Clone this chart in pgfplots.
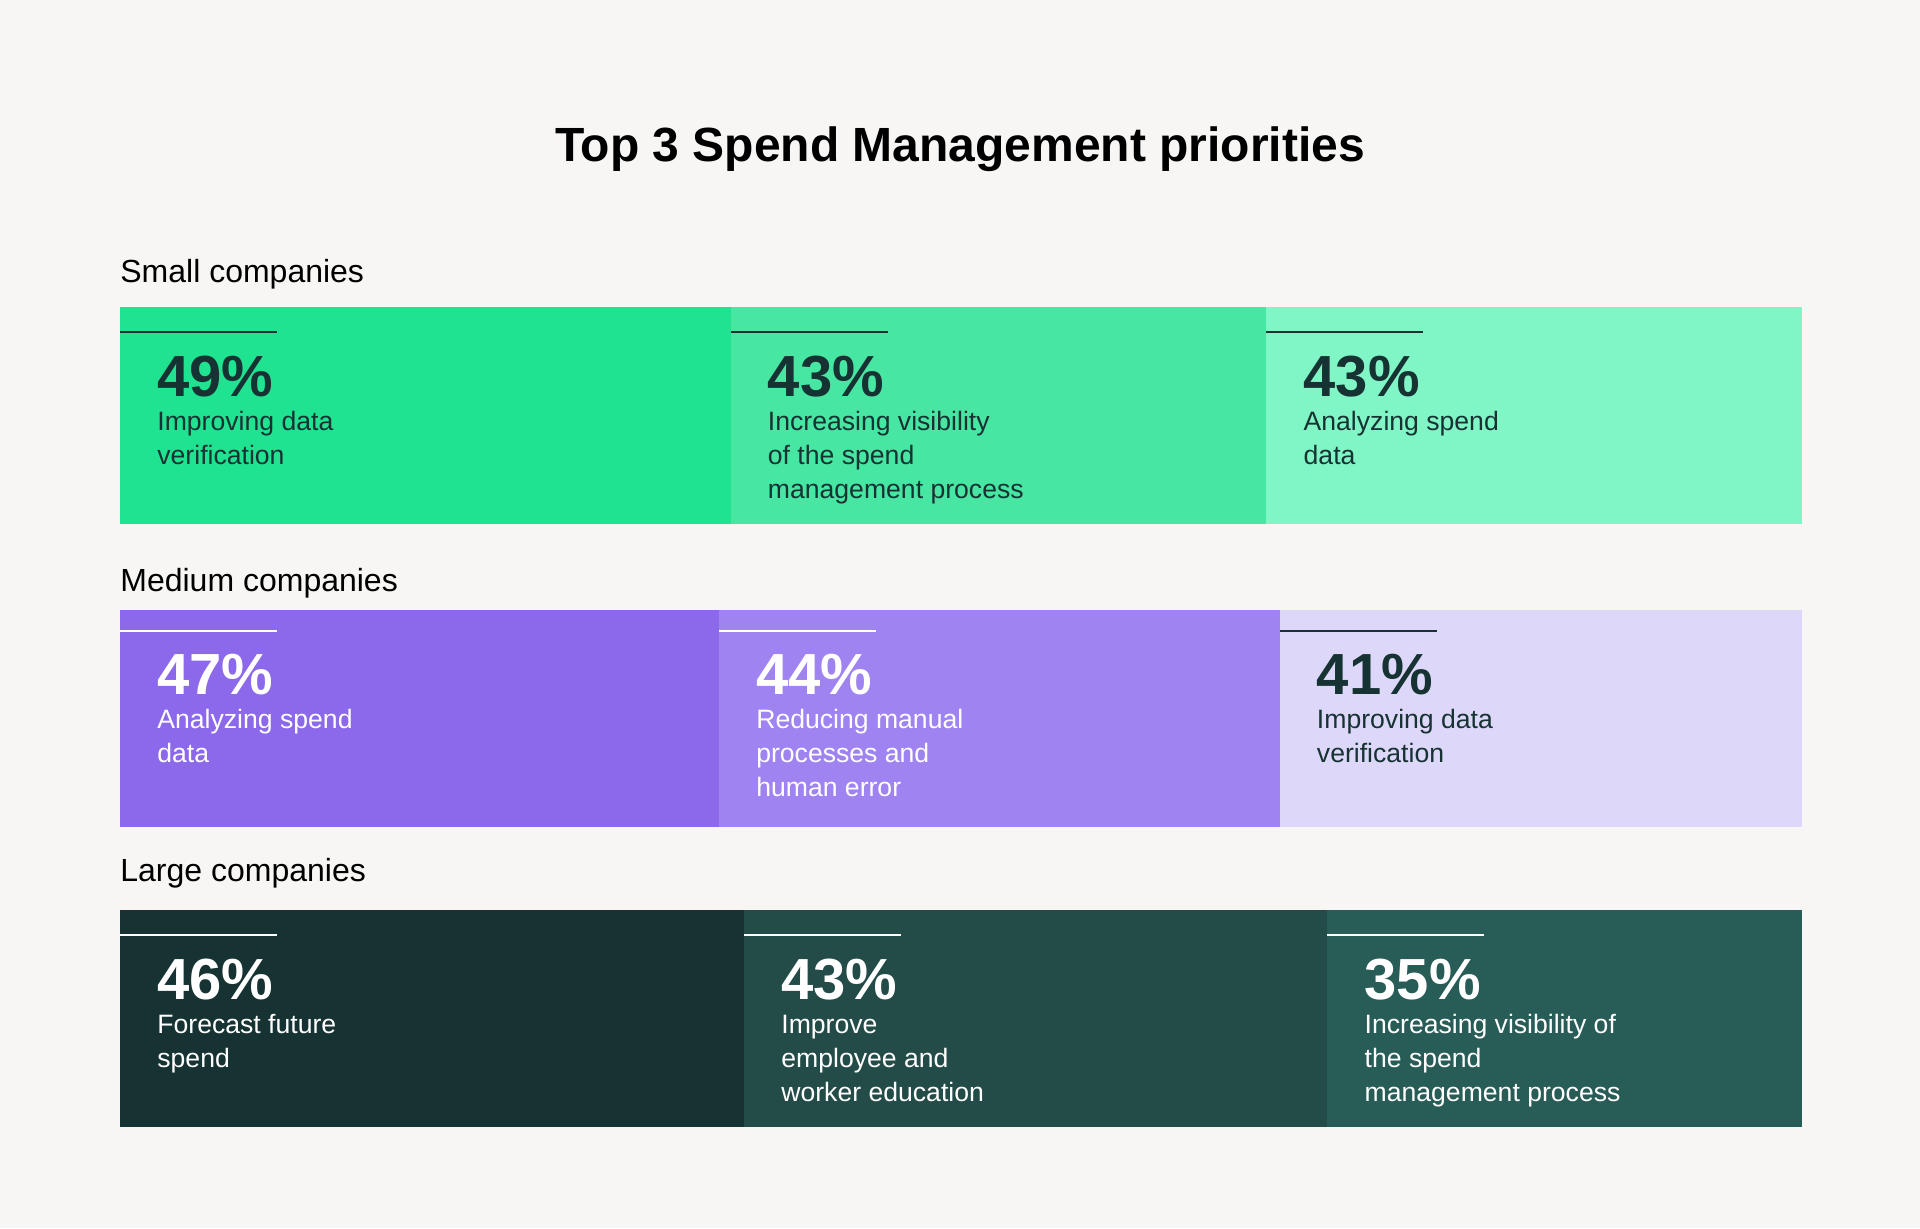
\documentclass[border=0pt]{standalone}
\usepackage{fontspec}
\setmainfont{Liberation Sans}
\usepackage{pgfplots}
\pgfplotsset{compat=1.18}
\definecolor{bg}{HTML}{F7F6F4}
\definecolor{ink}{HTML}{173232}
\definecolor{sA}{HTML}{1FE391}
\definecolor{sB}{HTML}{47E6A2}
\definecolor{sC}{HTML}{80F5C5}
\definecolor{mA}{HTML}{8B69EA}
\definecolor{mB}{HTML}{9F83F0}
\definecolor{mC}{HTML}{DDD7F9}
\definecolor{lA}{HTML}{163232}
\definecolor{lB}{HTML}{234B48}
\definecolor{lC}{HTML}{285C56}

% one segment: anchor coordinate (top-left of bar piece), value, label, colour, offsets
\newcommand{\seg}[7]{%
  \draw[#4, line width=1pt] ([yshift=-#5]#1) -- ++(78.5pt,0pt);
  \node[#4, anchor=base west, inner sep=0pt, font=\bfseries\fontsize{29}{29}\selectfont]
    at ([xshift=18.5pt, yshift=-#6]#1) {#2};
  \node[#4, anchor=base west, inner sep=0pt, font=\fontsize{13.3}{17}\selectfont]
    at ([xshift=18.5pt, yshift=-#7]#1) {\begin{tabular}[t]{@{}l@{}}#3\end{tabular}};
}

\pgfplotsset{row/.style={
  xbar stacked, hide axis, scale only axis, clip=false,
  width=841pt, height=108.5pt, bar width=108.5pt,
  xmin=0, ymin=-0.5, ymax=0.5, anchor=south west}}

\begin{document}
\begin{tikzpicture}
\fill[bg] (0,0) rectangle (960pt,614pt);
\node[anchor=base, font=\bfseries\fontsize{24}{28}\selectfont] at (480pt,533pt)
  {Top 3 Spend Management priorities};
\node[anchor=base west, inner sep=0pt, font=\fontsize{16}{19}\selectfont] at (60pt,472.6pt) {Small companies};
\node[anchor=base west, inner sep=0pt, font=\fontsize{16}{19}\selectfont] at (60pt,318.5pt) {Medium companies};
\node[anchor=base west, inner sep=0pt, font=\fontsize{16}{19}\selectfont] at (60pt,173.2pt) {Large companies};

% Small companies
\begin{axis}[row, at={(60pt,351.9pt)}, xmax=135]
  \addplot[fill=sA, draw=none] coordinates {(49,0)};
  \addplot[fill=sB, draw=none] coordinates {(43,0)};
  \addplot[fill=sC, draw=none] coordinates {(43,0)};
  \coordinate (s1) at (axis cs:0,0.5);
  \coordinate (s2) at (axis cs:49,0.5);
  \coordinate (s3) at (axis cs:92,0.5);
\end{axis}

% Medium companies
\begin{axis}[row, at={(60pt,200.6pt)}, xmax=132]
  \addplot[fill=mA, draw=none] coordinates {(47,0)};
  \addplot[fill=mB, draw=none] coordinates {(44,0)};
  \addplot[fill=mC, draw=none] coordinates {(41,0)};
  \coordinate (m1) at (axis cs:0,0.5);
  \coordinate (m2) at (axis cs:47,0.5);
  \coordinate (m3) at (axis cs:91,0.5);
\end{axis}

% Large companies
\begin{axis}[row, at={(60pt,50.5pt)}, xmax=124]
  \addplot[fill=lA, draw=none] coordinates {(46,0)};
  \addplot[fill=lB, draw=none] coordinates {(43,0)};
  \addplot[fill=lC, draw=none] coordinates {(35,0)};
  \coordinate (l1) at (axis cs:0,0.5);
  \coordinate (l2) at (axis cs:46,0.5);
  \coordinate (l3) at (axis cs:89,0.5);
\end{axis}

\seg{s1}{49\%}{Improving data\\verification}{ink}{12.5pt}{44.8pt}{61.6pt}
\seg{s2}{43\%}{Increasing visibility\\of the spend\\management process}{ink}{12.5pt}{44.8pt}{61.6pt}
\seg{s3}{43\%}{Analyzing spend\\data}{ink}{12.5pt}{44.8pt}{61.6pt}

\seg{m1}{47\%}{Analyzing spend\\data}{white}{10.5pt}{42.5pt}{59.2pt}
\seg{m2}{44\%}{Reducing manual\\processes and\\human error}{white}{10.5pt}{42.5pt}{59.2pt}
\seg{m3}{41\%}{Improving data\\verification}{ink}{10.5pt}{42.5pt}{59.2pt}

\seg{l1}{46\%}{Forecast future\\spend}{white}{12.3pt}{44.6pt}{61.6pt}
\seg{l2}{43\%}{Improve\\employee and\\worker education}{white}{12.3pt}{44.6pt}{61.6pt}
\seg{l3}{35\%}{Increasing visibility of\\the spend\\management process}{white}{12.3pt}{44.6pt}{61.6pt}
\end{tikzpicture}
\end{document}
